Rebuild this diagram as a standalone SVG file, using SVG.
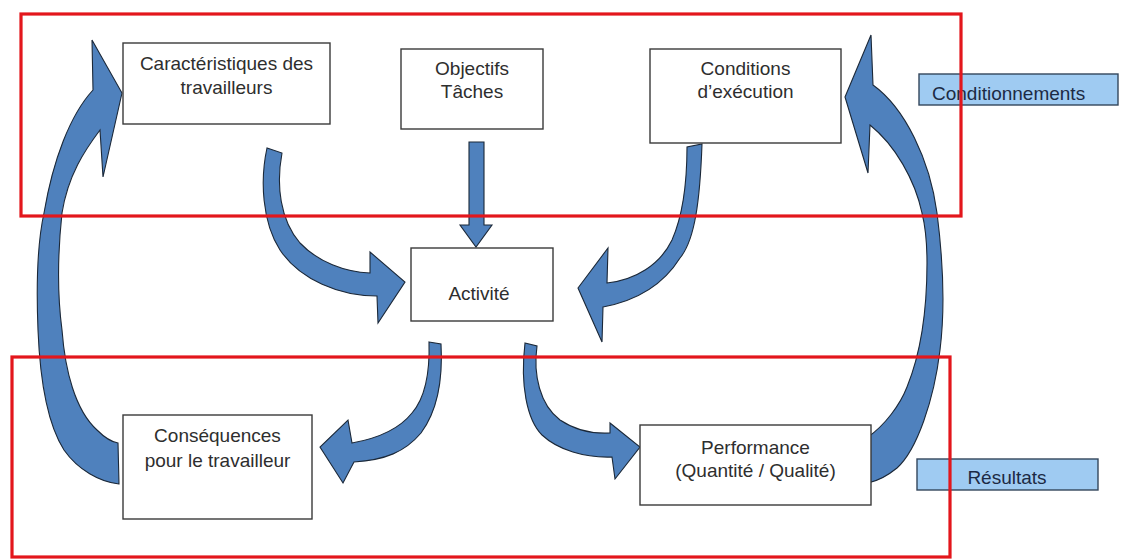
<svg xmlns="http://www.w3.org/2000/svg" width="1127" height="559" viewBox="0 0 1127 559">
<style>
.box{fill:#ffffff;stroke:#3a3a3a;stroke-width:1.4}
.lbl{fill:#9fcbf2;stroke:#34465c;stroke-width:1.4}
.t{font-family:"Liberation Sans",Arial,sans-serif;font-size:19px;fill:#2e2e2e;text-anchor:middle}
.tl{font-family:"Liberation Sans",Arial,sans-serif;font-size:19px;fill:#1c2a44}
.arr{fill:#4f81bd;stroke:#1b2838;stroke-width:1.1;stroke-linejoin:miter}
.frame{fill:none;stroke:#e3161c;stroke-width:3.2}
</style>
<rect width="1127" height="559" fill="#ffffff"/>
<g id="connectors">
<path class="arr" d="M122,93 L103,177 L100,130 C85,150 68,175 62,213 C57,260 58,300 62,330 C65,370 75,410 97,430 C105,438 112,442 118,443 L119,484 C100,482 78,470 64,450 C48,425 40,380 38,330 C36,280 38,240 44,213 C53,160 70,115 93,90 L92,40 Z"/>
<path class="arr" d="M845,97 L871,35 L873,85 C905,108 930,160 937,213 C943,260 945,310 940,350 C934,400 917,450 897,468 C886,477 877,481 868,483 L868,437 C885,425 900,405 907,387 C918,360 927,320 927,263 C927,240 925,225 922,213 C915,180 895,145 870,125 L868,173 Z"/>
<path class="arr" d="M282,153 C276,185 280,220 300,243 C318,262 345,272 370,273 L370,252 L405,282 L378,323 L377,296 C340,296 300,280 280,250 C262,222 260,180 267,148 Z"/>
<path class="arr" d="M469,142 L484,142 L484,225 L492,225 L476,247 L460,225 L469,225 Z"/>
<path class="arr" d="M702,144 C700,200 695,240 680,258 C665,282 640,300 603,307 L602,342 L578,288 L608,248 L607,283 C635,280 660,265 672,240 C683,215 687,180 687,147 Z"/>
<path class="arr" d="M429,342 L441,344 C443,380 438,410 421,433 C405,452 385,460 354,462 L343,483 L320,447 L348,420 L352,443 C380,438 400,428 412,413 C425,398 430,375 429,342 Z"/>
<path class="arr" d="M525,343 L537,346 C533,375 540,405 560,420 C575,430 592,434 610,433 L610,423 L640,447 L615,479 L612,457 C585,458 558,450 542,435 C527,420 520,385 525,343 Z"/>
</g>
<g id="caracteristiques">
<rect class="box" x="123" y="43" width="207" height="81"/>
<text class="t" x="226.5" y="70">Caractéristiques des</text>
<text class="t" x="226.5" y="94">travailleurs</text>
</g>
<g id="objectifs">
<rect class="box" x="401" y="49" width="142" height="80"/>
<text class="t" x="472" y="75">Objectifs</text>
<text class="t" x="472" y="98">Tâches</text>
</g>
<g id="conditions">
<rect class="box" x="650" y="49" width="191" height="94"/>
<text class="t" x="745.5" y="75">Conditions</text>
<text class="t" x="745.5" y="98">d’exécution</text>
</g>
<g id="activite">
<rect class="box" x="411" y="248" width="142" height="73"/>
<text class="t" x="479" y="300">Activité</text>
</g>
<g id="consequences">
<rect class="box" x="123" y="415" width="189" height="104"/>
<text class="t" x="217.5" y="442">Conséquences</text>
<text class="t" x="217.5" y="467">pour le travailleur</text>
</g>
<g id="performance">
<rect class="box" x="640" y="425" width="231" height="80"/>
<text class="t" x="755.5" y="454">Performance</text>
<text class="t" x="755.5" y="477">(Quantité / Qualité)</text>
</g>
<g id="conditionnements">
<rect class="lbl" x="919" y="74" width="199" height="31"/>
<text class="tl" x="932" y="100">Conditionnements</text>
</g>
<g id="resultats">
<rect class="lbl" x="917" y="459" width="181" height="31"/>
<text class="tl" x="1007" y="484" text-anchor="middle">Résultats</text>
</g>
<g id="frames">
<rect class="frame" x="21" y="14" width="940" height="202"/>
<rect class="frame" x="12" y="357" width="938" height="200"/>
</g>
</svg>
